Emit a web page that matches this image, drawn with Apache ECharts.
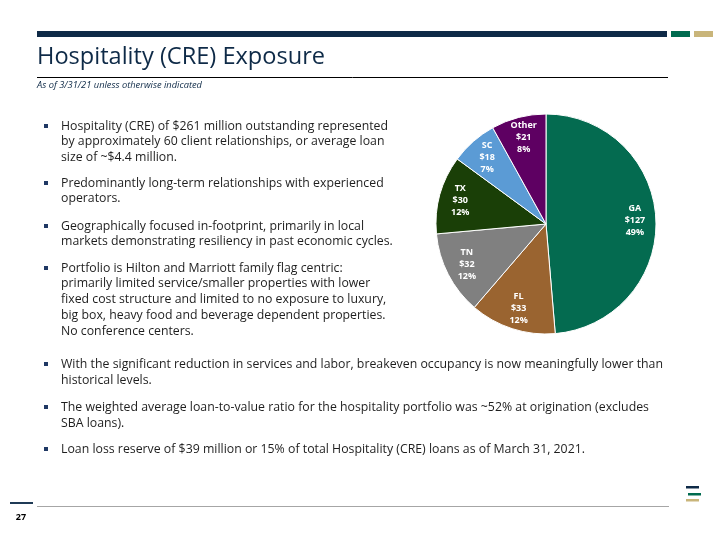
<!DOCTYPE html>
<html><head><meta charset="utf-8">
<script src="https://cdn.jsdelivr.net/npm/echarts@6/dist/echarts.min.js"></script>
<style>html,body{margin:0;padding:0;background:#fff}#c{width:720px;height:540px}</style>
</head><body><div id="c"></div>
<script>
// ---- data ----
const categories = ['GA', 'FL', 'TN', 'TX', 'SC', 'Other'];
const values = [127, 33, 32, 30, 18, 21];
const pctLabels = ['49%', '12%', '12%', '12%', '7%', '8%'];
const sliceColors = ['#046B50', '#9A6430', '#808080', '#1A3F07', '#5B9BD5', '#5E0062'];
const titleText = 'Hospitality (CRE) Exposure';
const subtitleText = 'As of 3/31/21 unless otherwise indicated';
const pageNumber = '27';
const topBullets = [
  ['Hospitality (CRE) of $261 million outstanding represented', 'by approximately 60 client relationships, or average loan', 'size of ~$4.4 million.'],
  ['Predominantly long-term relationships with experienced', 'operators.'],
  ['Geographically focused in-footprint, primarily in local', 'markets demonstrating resiliency in past economic cycles.'],
  ['Portfolio is Hilton and Marriott family flag centric:', 'primarily limited service/smaller properties with lower', 'fixed cost structure and limited to no exposure to luxury,', 'big box, heavy food and beverage dependent properties.', 'No conference centers.']
];
const bottomBullets = [
  ['With the significant reduction in services and labor, breakeven occupancy is now meaningfully lower than', 'historical levels.'],
  ['The weighted average loan-to-value ratio for the hospitality portfolio was ~52% at origination (excludes', 'SBA loans).'],
  ['Loan loss reserve of $39 million or 15% of total Hospitality (CRE) loans as of March 31, 2021.']
];

// ---- layout helpers ----
const NAVY = '#0E2A47';
const TEXT = '#1E1E1E';
const FONT = '"Open Sans", "Noto Sans", sans-serif';
const ctx = document.createElement('canvas').getContext('2d');
function fitScale(str, font, target) { ctx.font = font; return target / ctx.measureText(str).width; }

const graphics = [];
// header bars
graphics.push({ type: 'rect', shape: { x: 37, y: 31, width: 630, height: 6 }, style: { fill: NAVY } });
graphics.push({ type: 'rect', shape: { x: 671, y: 31, width: 19, height: 6 }, style: { fill: '#006B4F' } });
graphics.push({ type: 'rect', shape: { x: 694, y: 31, width: 19, height: 6 }, style: { fill: '#C9B57A' } });
// title
const titleFont = '400 24px ' + FONT;
graphics.push({ type: 'text', x: 37, y: 57, scaleX: fitScale(titleText, titleFont, 288),
  style: { text: titleText, font: titleFont, fill: NAVY, textVerticalAlign: 'middle' } });
graphics.push({ type: 'line', shape: { x1: 37, y1: 77.5, x2: 668, y2: 77.5 }, style: { stroke: '#000', lineWidth: 1 } });
const subFont = 'italic 400 9px ' + FONT;
graphics.push({ type: 'text', x: 37, y: 85, scaleX: fitScale(subtitleText, subFont, 165),
  style: { text: subtitleText, font: subFont, fill: NAVY, textVerticalAlign: 'middle' } });

// bullets
function addBlock(block, startYs, lh, font, scale) {
  block.forEach((lines, i) => {
    const y0 = startYs[i];
    graphics.push({ type: 'rect', shape: { x: 44, y: y0 - 2, width: 4, height: 4 }, style: { fill: '#1F3864' } });
    lines.forEach((ln, j) => {
      graphics.push({ type: 'text', x: 61, y: y0 + j * lh, scaleX: scale,
        style: { text: ln, font: font, fill: TEXT, textVerticalAlign: 'middle' } });
    });
  });
}
const bodyFont = '400 13px ' + FONT;
addBlock(topBullets, [126, 183, 226, 268], 15.7, bodyFont, fitScale(topBullets[0][0], bodyFont, 327));
addBlock(bottomBullets, [364, 407, 449], 16, bodyFont, fitScale(bottomBullets[0][0], bodyFont, 602));

// footer
graphics.push({ type: 'rect', shape: { x: 10, y: 502, width: 23, height: 2 }, style: { fill: '#1F3A56' } });
graphics.push({ type: 'line', shape: { x1: 37, y1: 506.5, x2: 669, y2: 506.5 }, style: { stroke: '#A6A6A6', lineWidth: 1 } });
graphics.push({ type: 'text', x: 21, y: 517, style: { text: pageNumber, font: 'bold 9px ' + FONT, fill: '#000', textAlign: 'center', textVerticalAlign: 'middle' } });
graphics.push({ type: 'rect', shape: { x: 686, y: 486, width: 13, height: 2.5 }, style: { fill: NAVY } });
graphics.push({ type: 'rect', shape: { x: 688, y: 493, width: 13, height: 2.5 }, style: { fill: '#006B4F' } });
graphics.push({ type: 'rect', shape: { x: 686, y: 499, width: 13, height: 2.5 }, style: { fill: '#C9B57A' } });

const pieData = categories.map((c, i) => ({ name: c, value: values[i], pct: pctLabels[i], itemStyle: { color: sliceColors[i] } }));
const labelData = categories.map((c, i) => ({ name: c, value: values[i], pct: pctLabels[i] }));

const chart = echarts.init(document.getElementById('c'), null, { renderer: 'canvas' });
chart.setOption({
  animation: false,
  graphic: graphics,
  series: [
    { type: 'pie', center: [546, 224], radius: [0, 110], startAngle: 90, clockwise: true, silent: true,
      data: pieData, label: { show: false }, labelLine: { show: false },
      itemStyle: { borderColor: '#FFFFFF', borderWidth: 1 } },
    { type: 'pie', center: [546, 224], radius: [62, 110], startAngle: 90, clockwise: true, silent: true,
      data: labelData, itemStyle: { color: 'rgba(0,0,0,0)', borderWidth: 0 }, labelLine: { show: false },
      label: { show: true, position: 'inside', color: '#FFFFFF', fontFamily: FONT, fontWeight: 'bold', fontSize: 9, lineHeight: 12,
        formatter: p => p.name + '\n$' + p.value + '\n' + p.data.pct } }
  ]
});
</script></body></html>
